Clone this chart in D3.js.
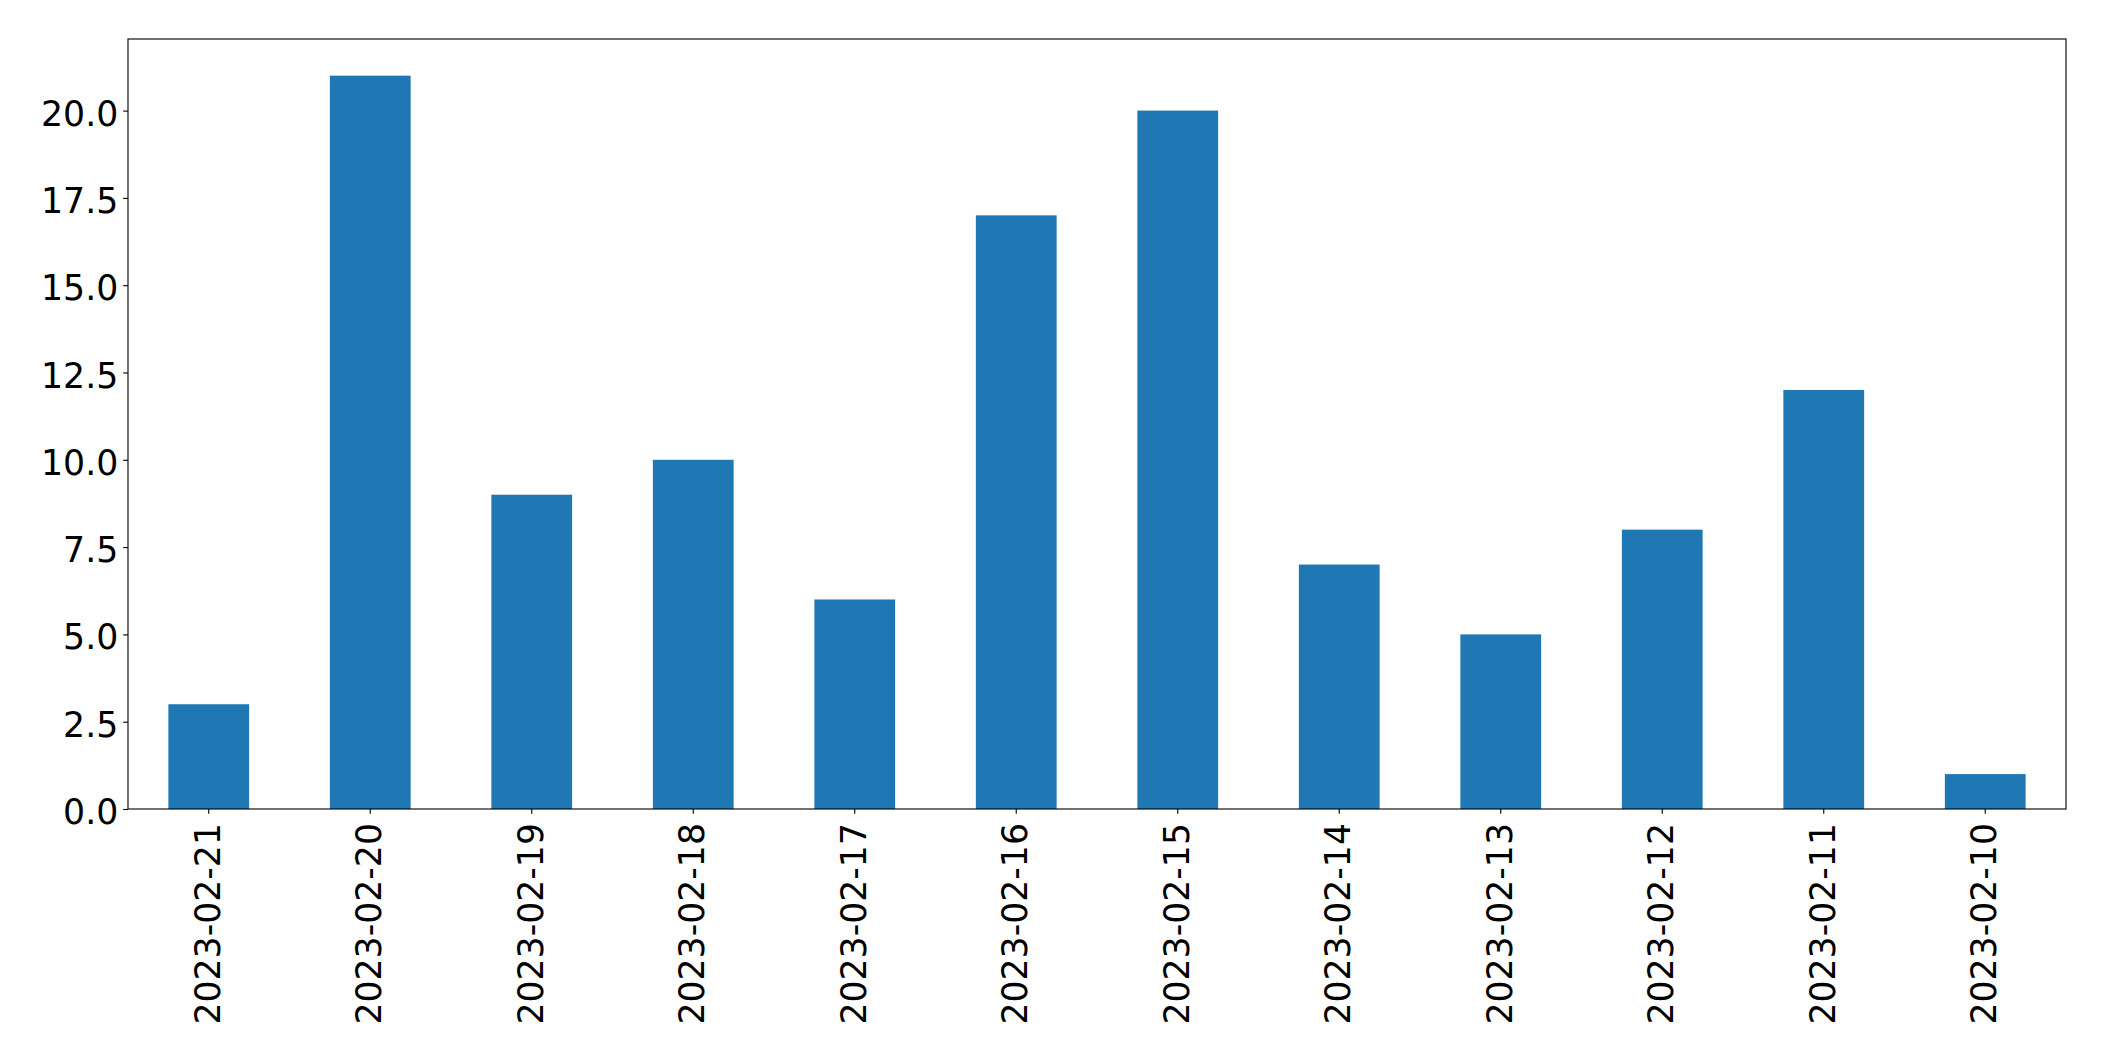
<!DOCTYPE html>
<html>
<head>
<meta charset="utf-8">
<script src="https://cdn.jsdelivr.net/npm/d3@7"></script>
<style>
  html, body { margin: 0; padding: 0; background: #ffffff; }
  svg { display: block; font-family: "DejaVu Sans", sans-serif; }
</style>
</head>
<body>
<svg id="chart" width="2104" height="1061"></svg>
<script>
const categories = ["2023-02-21","2023-02-20","2023-02-19","2023-02-18","2023-02-17","2023-02-16","2023-02-15","2023-02-14","2023-02-13","2023-02-12","2023-02-11","2023-02-10"];
const values = [3, 21, 9, 10, 6, 17, 20, 7, 5, 8, 12, 1];
const yTicks = [0, 2.5, 5, 7.5, 10, 12.5, 15, 17.5, 20];

const W = 2104, H = 1061;
const margin = {left: 128, top: 39, right: W - 2066, bottom: H - 809};
const iw = W - margin.left - margin.right;
const ih = H - margin.top - margin.bottom;
const fontSize = 34.7;
const tickLen = 4.86, tickPad = 4.86;

const svg = d3.select("#chart");
const g = svg.append("g").attr("transform", `translate(${margin.left},${margin.top})`);

const x = d3.scaleBand().domain(categories).range([0, iw]).paddingInner(0.5).paddingOuter(0.25);
const y = d3.scaleLinear().domain([0, d3.max(values) * 1.05]).range([ih, 0]);

g.selectAll("rect.bar").data(values).enter().append("rect")
  .attr("class", "bar")
  .attr("x", (d, i) => x(categories[i]))
  .attr("width", x.bandwidth())
  .attr("y", d => y(d))
  .attr("height", d => y(0) - y(d))
  .attr("fill", "#1f77b4");

// Y axis
const yAxis = d3.axisLeft(y).tickValues(yTicks).tickFormat(d3.format(".1f"))
  .tickSize(tickLen).tickPadding(tickPad).tickSizeOuter(0);
const yg = g.append("g").call(yAxis);
yg.select(".domain").remove();
yg.selectAll(".tick line").attr("stroke", "#000").attr("stroke-width", 1.11);
yg.selectAll(".tick text").attr("font-size", fontSize).attr("fill", "#000")
  .attr("font-family", "DejaVu Sans").attr("dy", "0.42em");

// X axis
const xAxis = d3.axisBottom(x).tickSize(tickLen).tickPadding(tickPad).tickSizeOuter(0);
const xg = g.append("g").attr("transform", `translate(0,${ih})`).call(xAxis);
xg.select(".domain").remove();
xg.selectAll(".tick line").attr("stroke", "#000").attr("stroke-width", 1.11);
xg.selectAll(".tick text")
  .attr("font-size", fontSize).attr("fill", "#000").attr("font-family", "DejaVu Sans")
  .attr("text-anchor", "end")
  .attr("x", 0).attr("y", 0).attr("dy", "0.32em")
  .attr("transform", `translate(0,${tickLen + tickPad + 4.3}) rotate(-90)`);

// Frame
g.append("rect").attr("x", 0).attr("y", 0).attr("width", iw).attr("height", ih)
  .attr("fill", "none").attr("stroke", "#000").attr("stroke-width", 1.11);
</script>
</body>
</html>
